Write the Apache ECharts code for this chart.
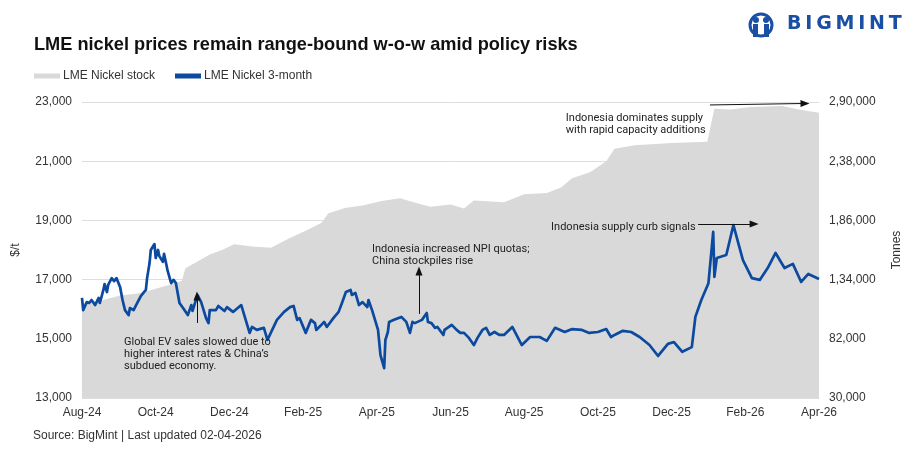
<!DOCTYPE html>
<html>
<head>
<meta charset="utf-8">
<script src="https://cdn.jsdelivr.net/npm/echarts@6/dist/echarts.min.js"></script>
<style>
html,body{margin:0;padding:0;background:#fff;}
#chart{width:913px;height:453px;}
</style>
</head>
<body>
<div id="chart"></div>
<script>
// ---------- DATA ----------
const xTickLabels = ['Aug-24','Oct-24','Dec-24','Feb-25','Apr-25','Jun-25','Aug-25','Oct-25','Dec-25','Feb-26','Apr-26'];

const priceDates = [
'2024-08-01','2024-08-02','2024-08-05','2024-08-07','2024-08-09','2024-08-12','2024-08-15','2024-08-16','2024-08-19','2024-08-20',
'2024-08-22','2024-08-23','2024-08-26','2024-08-28','2024-08-30','2024-09-02','2024-09-04','2024-09-06','2024-09-09','2024-09-10',
'2024-09-13','2024-09-16','2024-09-19','2024-09-23','2024-09-24','2024-09-26','2024-09-27','2024-09-30','2024-10-01','2024-10-03',
'2024-10-04','2024-10-07','2024-10-08','2024-10-10','2024-10-11','2024-10-14','2024-10-16','2024-10-18','2024-10-21','2024-10-24',
'2024-10-28','2024-10-31','2024-11-01','2024-11-05','2024-11-08','2024-11-12','2024-11-14','2024-11-15','2024-11-20','2024-11-22',
'2024-11-27','2024-11-29','2024-12-04','2024-12-06','2024-12-11','2024-12-13','2024-12-18','2024-12-20','2024-12-24','2024-12-30',
'2025-01-02','2025-01-06','2025-01-10','2025-01-16','2025-01-21','2025-01-24','2025-01-27','2025-01-29','2025-02-03','2025-02-07',
'2025-02-10','2025-02-11','2025-02-14','2025-02-17','2025-02-19','2025-02-24','2025-02-28','2025-03-03','2025-03-06','2025-03-10',
'2025-03-11','2025-03-14','2025-03-17','2025-03-20','2025-03-24','2025-03-25','2025-03-28','2025-04-02','2025-04-04','2025-04-07',
'2025-04-08','2025-04-10','2025-04-11','2025-04-15','2025-04-21','2025-04-25','2025-04-28','2025-04-30','2025-05-02','2025-05-08',
'2025-05-12','2025-05-13','2025-05-16','2025-05-19','2025-05-21','2025-05-26','2025-05-27','2025-06-02','2025-06-06','2025-06-09',
'2025-06-12','2025-06-16','2025-06-20','2025-06-23','2025-06-27','2025-06-30','2025-07-03','2025-07-07','2025-07-11','2025-07-15',
'2025-07-22','2025-07-30','2025-08-06','2025-08-12','2025-08-14','2025-08-20','2025-08-27','2025-09-04','2025-09-10','2025-09-18',
'2025-09-24','2025-10-01','2025-10-08','2025-10-12','2025-10-15','2025-10-22','2025-10-29','2025-11-05','2025-11-13','2025-11-20',
'2025-11-28','2025-12-03','2025-12-10','2025-12-18','2025-12-21','2025-12-26','2026-01-01','2026-01-05','2026-01-06','2026-01-08',
'2026-01-16','2026-01-22','2026-01-30','2026-02-06','2026-02-12','2026-02-18','2026-02-24','2026-03-03','2026-03-10','2026-03-17',
'2026-03-23','2026-04-01'
];
const priceValues = [
16380,15970,16240,16210,16310,16140,16380,16210,16650,16850,
16580,16820,17050,16950,17050,16750,16310,15970,15800,16040,
15970,16210,16450,16650,17050,17560,18000,18200,17730,18000,
17800,17600,17870,17500,17300,16880,16990,16880,16210,16040,
15800,16140,15940,16480,16240,15700,15530,15970,15970,16110,
15940,16070,15910,15970,16140,15870,15200,15400,15300,15370,
14960,15300,15640,15910,16070,16110,15640,15700,15200,15640,
15530,15300,15430,15570,15400,15700,15910,16240,16580,16650,
16480,16550,16140,16240,16070,16310,15970,15300,14450,14010,
14960,15230,15570,15640,15740,15570,15200,15570,15530,15640,
15870,15570,15530,15370,15400,15130,15300,15470,15300,15200,
15200,15030,14790,15030,15300,15370,15130,15230,15130,15130,
15400,14790,15060,15060,15060,14930,15370,15230,15330,15300,
15200,15230,15330,15060,15130,15270,15230,15060,14790,14420,
14830,14890,14560,14720,15740,16310,16880,18610,17090,17730,
17830,18840,17660,17050,16990,17390,17900,17390,17530,16920,
17190,17020
];

const stockDates = [
'2024-08-01','2024-08-15','2024-09-02','2024-09-18','2024-10-01','2024-10-18','2024-10-23','2024-10-26','2024-11-05','2024-11-15',
'2024-11-25','2024-12-05','2024-12-20','2025-01-05','2025-01-20','2025-02-05','2025-02-15','2025-02-20','2025-03-05','2025-03-20',
'2025-04-05','2025-04-20','2025-05-01','2025-05-15','2025-06-01','2025-06-12','2025-06-20','2025-07-15','2025-08-01','2025-08-20',
'2025-09-01','2025-09-10','2025-09-25','2025-10-08','2025-10-15','2025-11-01','2025-12-01','2025-12-31','2026-01-06','2026-01-20',
'2026-02-05','2026-03-01','2026-03-15','2026-04-01'
];
const stockValues = [
113000,115000,120000,122000,126000,131000,133000,144000,150000,156000,
160000,165000,163000,162000,170000,178000,184000,192000,197000,199000,
203000,205500,202000,198000,200000,196500,203500,202000,209000,210000,
215000,223000,228500,238000,249000,252000,254000,255000,284000,283500,
285500,286500,283500,280500
];

// annotations: [x in months since Aug-24, price level]
const noteTexts = [
  'Global EV sales slowed due to\nhigher interest rates & China\u2019s\nsubdued economy.',
  'Indonesia increased NPI quotas;\nChina stockpiles rise',
  'Indonesia dominates supply\nwith rapid capacity additions',
  'Indonesia supply curb signals'
];
const noteAnchors = [[1.14, 14490], [7.87, 17830], [13.13, 22260], [12.73, 18780]];
const arrowFrom = [[3.12, 15535], [9.145, 15840], [17.04, 22900], [16.72, 18880]];
const arrowTo   = [[3.12, 16450], [9.145, 17290], [19.62, 22950], [18.24, 18880]];

// ---------- HELPERS ----------
function daysIn(y, m) { return new Date(y, m, 0).getDate(); }
function toIdx(s) {
  const [y, m, d] = s.split('-').map(Number);
  return (y - 2024) * 12 + (m - 1) - 7 + (d - 1) / daysIn(y, m);
}
function fmtComma(v) { return String(v).replace(/\B(?=(\d{3})+(?!\d))/g, ','); }
function fmtIndian(v) {
  let s = String(Math.round(v));
  if (s.length <= 3) return s;
  const last3 = s.slice(-3);
  let rest = s.slice(0, -3);
  rest = rest.replace(/\B(?=(\d{2})+(?!\d))/g, ',');
  return rest + ',' + last3;
}

const priceData = priceDates.map((d, i) => [toIdx(d), priceValues[i]]);
const stockData = stockDates.map((d, i) => [toIdx(d), stockValues[i]]);

const FONT = 'Liberation Sans';
const NOTE_FONT = 'Roboto';

const chart = echarts.init(document.getElementById('chart'));
const option = {
  animation: false,
  backgroundColor: '#fff',
  title: {
    text: 'LME nickel prices remain range-bound w-o-w amid policy risks',
    left: 29, top: 31,
    textStyle: { fontFamily: FONT, fontWeight: 'bold', fontSize: 18.2, color: '#111' }
  },
  legend: {
    left: 34, top: 70,
    itemWidth: 26, itemHeight: 5, itemGap: 20,
    padding: 0,
    textStyle: { fontFamily: FONT, fontSize: 12, color: '#333', padding: [0, 0, 0, -2] },
    data: [
      { name: 'LME Nickel stock', icon: 'rect', itemStyle: { color: '#d9d9d9' } },
      { name: 'LME Nickel 3-month', icon: 'rect', itemStyle: { color: '#0b4a9f' } }
    ]
  },
  grid: { left: 82, right: 94, top: 102, bottom: 55, containLabel: false },
  xAxis: {
    type: 'value', min: 0, max: 20, interval: 2,
    axisLine: { show: false }, axisTick: { show: false }, splitLine: { show: false },
    axisLabel: {
      fontFamily: FONT, fontSize: 12, color: '#333', margin: 9,
      formatter: v => xTickLabels[Math.round(v / 2)] || ''
    }
  },
  yAxis: [
    {
      type: 'value', min: 13000, max: 23000, interval: 2000,
      name: '$/t', nameLocation: 'middle', nameGap: 60, nameRotate: 90,
      nameTextStyle: { fontFamily: FONT, fontSize: 12, color: '#333' },
      axisLine: { show: false }, axisTick: { show: false },
      splitLine: { lineStyle: { color: '#dedede', width: 1 } },
      axisLabel: { fontFamily: FONT, fontSize: 12, color: '#333', margin: 10, formatter: fmtComma }
    },
    {
      type: 'value', min: 30000, max: 290000, interval: 52000,
      name: 'Tonnes', nameLocation: 'middle', nameGap: 72, nameRotate: 90,
      nameTextStyle: { fontFamily: FONT, fontSize: 12, color: '#333' },
      axisLine: { show: false }, axisTick: { show: false }, splitLine: { show: false },
      axisLabel: { fontFamily: FONT, fontSize: 12, color: '#333', margin: 10, formatter: fmtIndian }
    }
  ],
  series: [
    {
      name: 'LME Nickel stock', type: 'line', yAxisIndex: 1,
      data: stockData, symbol: 'none', color: '#d9d9d9',
      lineStyle: { width: 0 },
      areaStyle: { color: '#d9d9d9', opacity: 1, origin: 'start' },
      z: 1
    },
    {
      name: 'LME Nickel 3-month', type: 'line', yAxisIndex: 0,
      data: priceData, symbol: 'none', color: '#0b4a9f',
      lineStyle: { width: 2.7, color: '#0b4a9f', join: 'round' },
      z: 3,
      markLine: {
        silent: true, animation: false,
        symbol: ['none', 'triangle'], symbolSize: [7, 9],
        lineStyle: { color: '#111', width: 1, type: 'solid' },
        label: { show: false },
        emphasis: { disabled: true },
        data: arrowFrom.map((f, i) => [{ coord: f }, { coord: arrowTo[i] }])
      },
      markPoint: {
        silent: true, animation: false,
        symbol: 'circle', symbolSize: 0,
        data: noteAnchors.map((c, i) => ({
          coord: c,
          label: {
            show: true, position: 'right', distance: 0,
            formatter: noteTexts[i], align: 'left', verticalAlign: 'middle',
            fontFamily: NOTE_FONT, fontSize: 11, lineHeight: 12, color: '#222'
          }
        }))
      }
    }
  ],
  graphic: [
    {
      type: 'text', left: 33, top: 430,
      style: { text: 'Source: BigMint | Last updated 02-04-2026', font: '12px "Liberation Sans"', fill: '#333' }
    },
    // logo icon
    { type: 'circle', shape: { cx: 761, cy: 25, r: 11 }, style: { fill: 'none', stroke: '#1a4fa3', lineWidth: 3 } },
    { type: 'circle', shape: { cx: 756, cy: 20, r: 3 }, style: { fill: '#1a4fa3' } },
    { type: 'circle', shape: { cx: 766, cy: 20, r: 3 }, style: { fill: '#1a4fa3' } },
    { type: 'rect', shape: { x: 753, y: 24, width: 5, height: 13 }, style: { fill: '#1a4fa3' } },
    { type: 'rect', shape: { x: 764, y: 24, width: 5, height: 13 }, style: { fill: '#1a4fa3' } },
    {
      type: 'text', left: 787, top: 15,
      style: { text: 'B\u2009I\u2009G\u2009M\u2009I\u2009N\u2009T', font: 'bold 19px "DejaVu Sans"', fill: '#1a4fa3' }
    }
  ]
};
chart.setOption(option);
</script>
</body>
</html>
